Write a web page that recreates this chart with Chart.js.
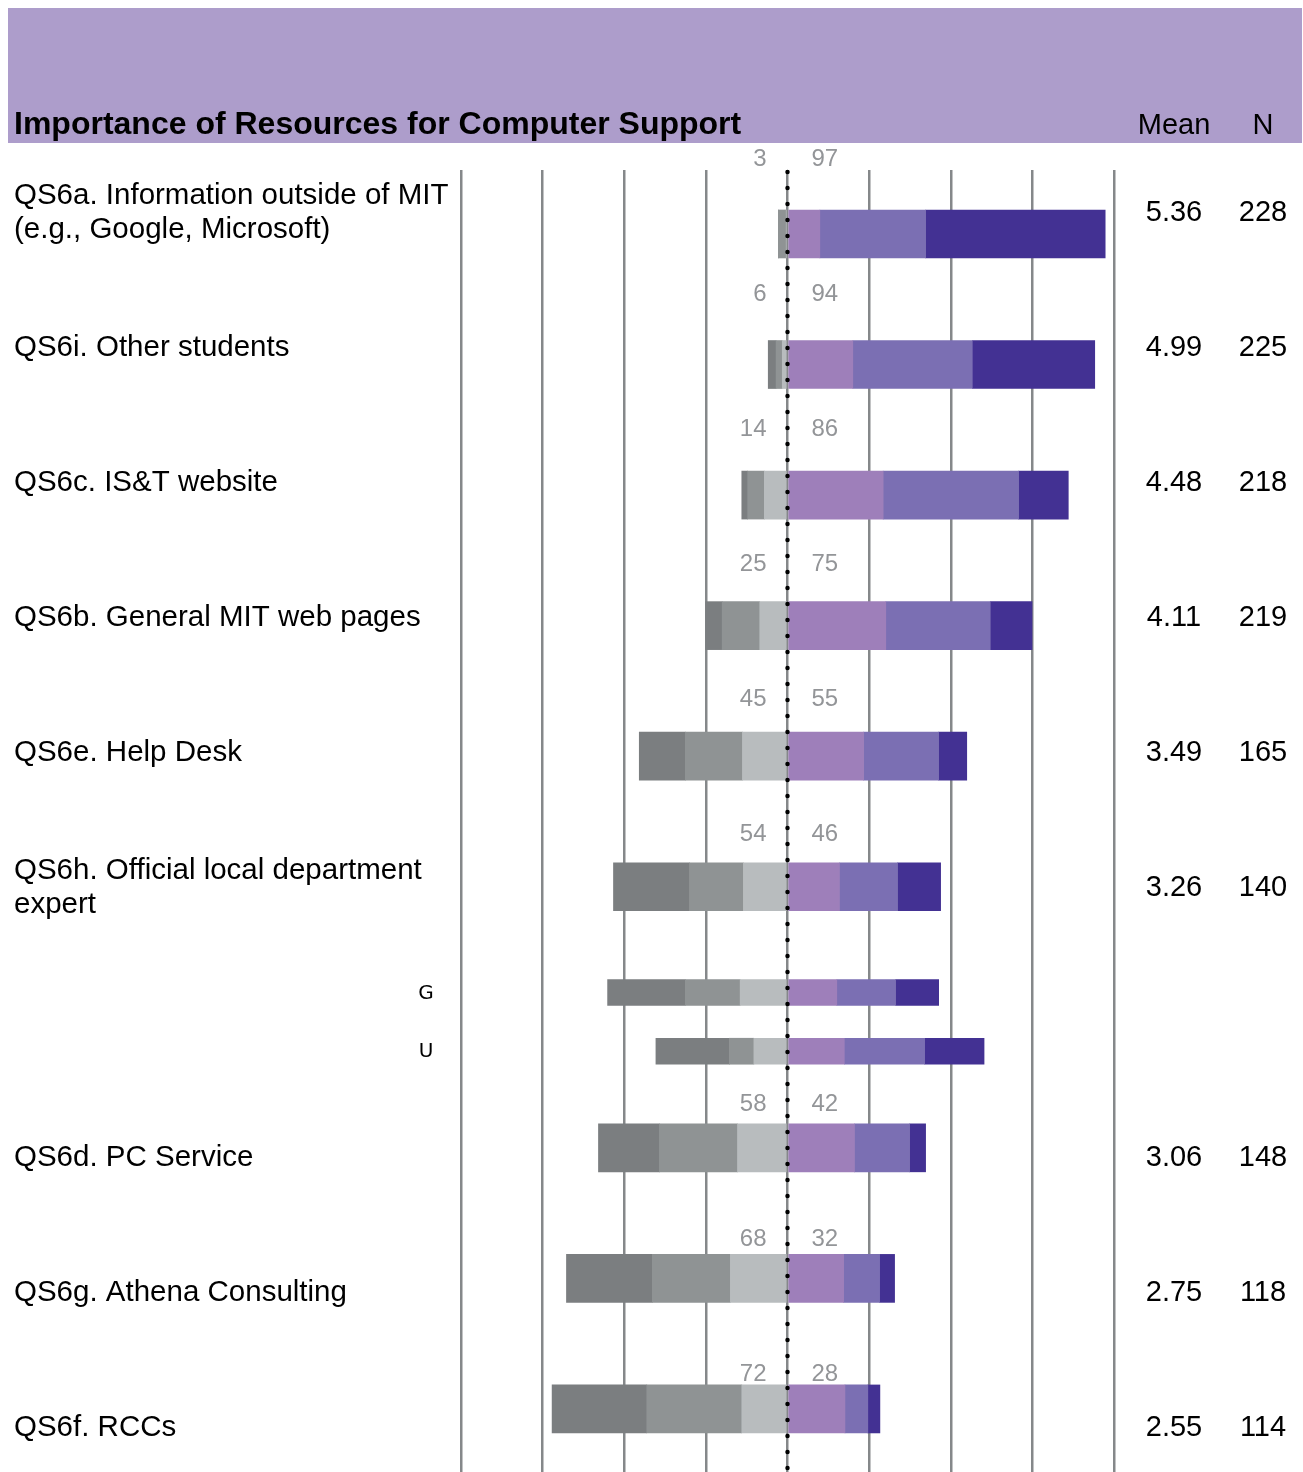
<!DOCTYPE html>
<html>
<head>
<meta charset="utf-8">
<title>Importance of Resources for Computer Support</title>
<script src="https://cdn.jsdelivr.net/npm/chart.js@4.4.1/dist/chart.umd.min.js"></script>
<style>
  html, body { margin: 0; padding: 0; background: #fff; }
  #wrap { position: relative; width: 1303px; height: 1472px; }
</style>
</head>
<body>
<div id="wrap"><canvas id="resources"></canvas></div>
<script>
var title = 'Importance of Resources for Computer Support';

var rowLabels = [
    ['QS6a. Information outside of MIT', '(e.g., Google, Microsoft)'],
    ['QS6i. Other students'],
    ['QS6c. IS&T website'],
    ['QS6b. General MIT web pages'],
    ['QS6e. Help Desk'],
    ['QS6h. Official local department', 'expert'],
    ['QS6d. PC Service'],
    ['QS6g. Athena Consulting'],
    ['QS6f. RCCs']
];
var rowIndex = [0, 1, 2, 3, 4, 5, 7, 8, 9];

// QS6h split by G / U
var groupLabels = ['G', 'U'];
var groupIndex = [5.81, 6.26];

// percent of respondents, from least important (dark grey) to most important (dark purple)
var darkGrey    = [0, 2.4, 1.8, 5.1, 14.1, 23.3, 18.7, 26.3, 29.0];
var midGrey     = [2.4, 1.9, 5.1, 11.5, 17.5, 16.5, 23.9, 23.9, 29.1];
var lightGrey   = [0.4, 1.6, 7.1, 8.5, 13.8, 13.5, 15.3, 17.5, 14.0];
var lightPurple = [9.9, 20.0, 29.3, 30.1, 23.3, 15.9, 20.5, 17.2, 17.6];
var midPurple   = [32.4, 36.6, 41.5, 32.0, 23.0, 17.8, 16.9, 11.0, 7.0];
var darkPurple  = [55.0, 37.5, 15.2, 12.8, 8.6, 13.2, 4.9, 4.6, 3.7];

var groupDarkGrey    = [23.8, 22.5];
var groupMidGrey     = [16.8, 7.5];
var groupLightGrey   = [14.5, 10.3];
var groupLightPurple = [15.1, 17.4];
var groupMidPurple   = [18.0, 24.6];
var groupDarkPurple  = [13.2, 18.2];

var negTotals = [3, 6, 14, 25, 45, 54, 58, 68, 72];
var posTotals = [97, 94, 86, 75, 55, 46, 42, 32, 28];
var means = ['5.36', '4.99', '4.48', '4.11', '3.49', '3.26', '3.06', '2.75', '2.55'];
var counts = [228, 225, 218, 219, 165, 140, 148, 118, 114];

var xTicks = [-100, -75, -50, -25, 0, 25, 50, 75, 100];

function points(values, index, sign) {
    return values.map(function (v, i) {
        return { x: sign * v, y: index[i] };
    });
}

// nearest to the centre line first, so the stacks grow outwards
var segments = [
    { main: lightGrey,   group: groupLightGrey,   sign: -1, color: '#b8bcbe' },
    { main: midGrey,     group: groupMidGrey,     sign: -1, color: '#8f9394' },
    { main: darkGrey,    group: groupDarkGrey,    sign: -1, color: '#7b7e80' },
    { main: lightPurple, group: groupLightPurple, sign: 1,  color: '#9e7fba' },
    { main: midPurple,   group: groupMidPurple,   sign: 1,  color: '#7b6fb3' },
    { main: darkPurple,  group: groupDarkPurple,  sign: 1,  color: '#433193' }
];

var datasets = [];
segments.forEach(function (s) {
    datasets.push({
        data: points(s.main, rowIndex, s.sign),
        backgroundColor: s.color,
        borderWidth: 0,
        barThickness: 48,
        stack: 'all'
    });
    datasets.push({
        data: points(s.group, groupIndex, s.sign),
        backgroundColor: s.color,
        borderWidth: 0,
        barThickness: 26,
        stack: 'all'
    });
});

var font = '"Liberation Sans", Arial, sans-serif';

var tablePlugin = {
    id: 'table',
    beforeDraw: function (chart) {
        var ctx = chart.ctx;
        ctx.save();
        ctx.fillStyle = '#ad9dcb';
        ctx.fillRect(8, 8, 1294, 135);
        ctx.fillStyle = '#000';
        ctx.textBaseline = 'alphabetic';
        ctx.font = 'bold 32px ' + font;
        ctx.textAlign = 'left';
        ctx.fillText(title, 14, 134);
        ctx.font = '29px ' + font;
        ctx.textAlign = 'center';
        var right = chart.chartArea.right;
        ctx.fillText('Mean', right + 60, 134);
        ctx.fillText('N', right + 149, 134);
        ctx.restore();
    },
    afterDatasetsDraw: function (chart) {
        var ctx = chart.ctx;
        var area = chart.chartArea;
        var x0 = chart.scales.x.getPixelForValue(0);
        ctx.save();
        ctx.strokeStyle = '#000';
        ctx.lineWidth = 4.5;
        ctx.lineCap = 'round';
        ctx.setLineDash([0, 16]);
        ctx.beginPath();
        ctx.moveTo(x0, area.top + 2);
        ctx.lineTo(x0, area.bottom);
        ctx.stroke();
        ctx.restore();
    },
    afterDraw: function (chart) {
        var ctx = chart.ctx;
        var rows = chart.scales.rows;
        var bars = chart.scales.y;
        var x0 = chart.scales.x.getPixelForValue(0);
        var right = chart.chartArea.right;
        ctx.save();
        ctx.textBaseline = 'middle';
        rowIndex.forEach(function (k, i) {
            var y = rows.getPixelForValue(k);
            ctx.fillStyle = '#000';
            ctx.font = '29.5px ' + font;
            ctx.textAlign = 'left';
            var lines = rowLabels[i];
            lines.forEach(function (line, j) {
                ctx.fillText(line, 14, y + (j - (lines.length - 1) / 2) * 34);
            });
            ctx.font = '29px ' + font;
            ctx.textAlign = 'center';
            ctx.fillText(means[i], right + 60, y);
            ctx.fillText(String(counts[i]), right + 149, y);

            var yn = rows.getPixelForValue(k - 0.4);
            ctx.fillStyle = '#939598';
            ctx.font = '24px ' + font;
            ctx.textAlign = 'right';
            ctx.fillText(String(negTotals[i]), x0 - 21, yn);
            ctx.textAlign = 'left';
            ctx.fillText(String(posTotals[i]), x0 + 24, yn);
        });
        ctx.fillStyle = '#000';
        ctx.font = '20px "DejaVu Sans", sans-serif';
        ctx.textAlign = 'center';
        groupIndex.forEach(function (g, i) {
            ctx.fillText(groupLabels[i], 426, bars.getPixelForValue(g) + 1);
        });
        ctx.restore();
    }
};

new Chart(document.getElementById('resources'), {
    type: 'bar',
    data: { datasets: datasets },
    options: {
        indexAxis: 'y',
        responsive: true,
        maintainAspectRatio: false,
        animation: false,
        layout: { padding: { left: 461, right: 189, top: 170, bottom: 0 } },
        plugins: { legend: { display: false }, tooltip: { enabled: false } },
        scales: {
            x: {
                type: 'linear',
                min: -100,
                max: 100,
                stacked: true,
                afterBuildTicks: function (scale) {
                    scale.ticks = xTicks.map(function (v) { return { value: v }; });
                },
                ticks: { display: false },
                grid: { color: '#85888a', lineWidth: 2.5, drawTicks: false },
                border: { display: false }
            },
            y: {
                type: 'linear',
                reverse: true,
                offset: false,
                grid: { offset: false },
                min: -0.49,
                max: 9.483,
                display: false
            },
            rows: {
                type: 'linear',
                axis: 'y',
                reverse: true,
                offset: false,
                grid: { offset: false },
                min: -0.319,
                max: 9.326,
                display: false
            }
        }
    },
    plugins: [tablePlugin]
});
</script>
</body>
</html>
